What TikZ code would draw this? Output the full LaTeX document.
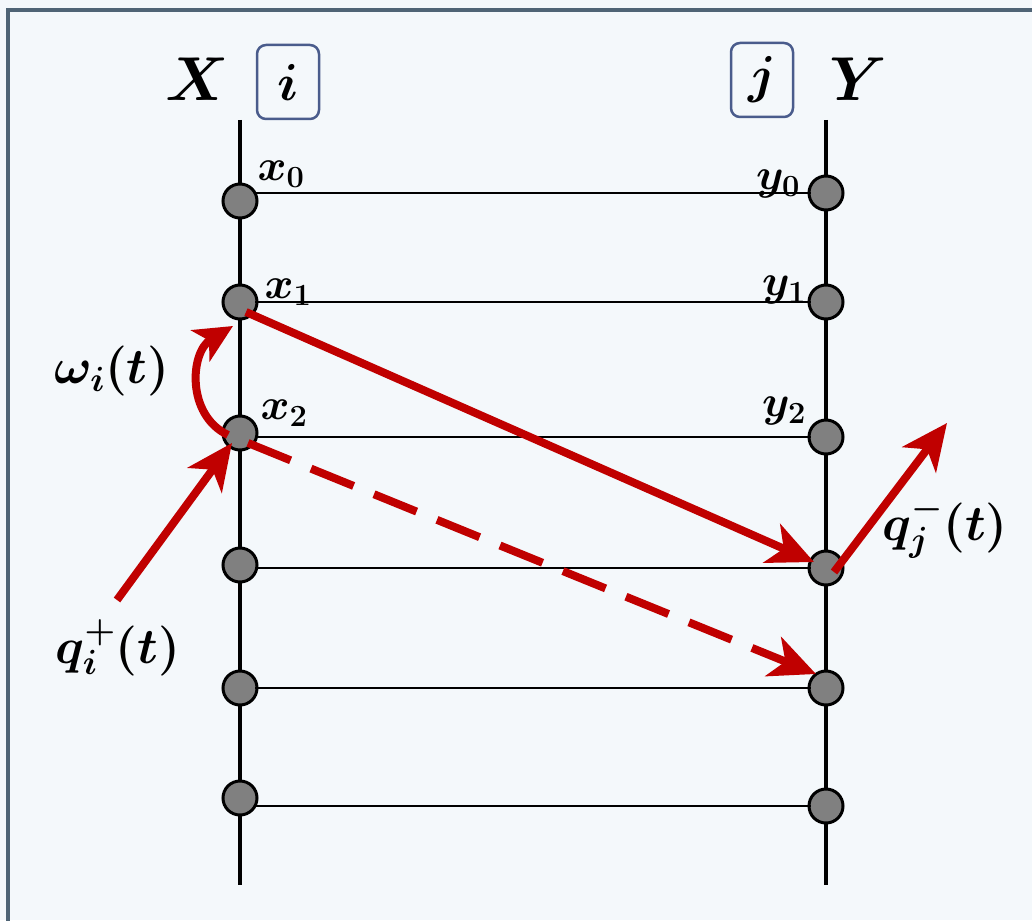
\documentclass[tikz,border=0pt]{standalone}
\usepackage{fix-cm}
\usepackage{amsmath}
\usepackage{bm}
\usetikzlibrary{arrows.meta,positioning}
\definecolor{framecol}{HTML}{4F6475}
\definecolor{boxcol}{HTML}{4A5C8C}
\definecolor{flowred}{HTML}{C00000}
\definecolor{paper}{HTML}{F4F8FB}
\begin{document}
\begin{tikzpicture}[x=1pt, y=-1pt,
  slot/.style={circle, draw, line width=3pt, fill=gray!95!black!95, minimum size=34pt, inner sep=0pt},
  idx/.style={draw=boxcol, line width=2.5pt, rounded corners=9pt, minimum width=62pt, minimum height=74pt, inner sep=0pt, font=\fontsize{52}{56}\selectfont},
  lbl/.style={font=\fontsize{44}{48}\selectfont, inner sep=0pt},
  big/.style={font=\fontsize{50}{54}\selectfont, inner sep=0pt},
  flow/.style={draw=flowred, line width=8pt, -{Stealth[length=46pt, width=42pt, inset=13pt]}}]
  \useasboundingbox (0,0) rectangle (1032,920);
  \fill[paper] (0,0) rectangle (1032,920);
  \draw[framecol, line width=4pt] (8,930) -- (8,10) -- (1040,10);
  % axes
  \coordinate (xtop) at (240,120); \coordinate (xbot) at (240,885);
  \coordinate (ytop) at (826,120); \coordinate (ybot) at (826,885);
  \draw[line width=4pt] (xtop) -- (xbot);
  \draw[line width=4pt] (ytop) -- (ybot);
  \node[font=\fontsize{62}{66}\selectfont] (X) at (197,79) {$\bm{X}$};
  \node[font=\fontsize{62}{66}\selectfont] (Y) at (858,79) {$\bm{Y}$};
  \node[idx] (i) at (288,82) {$\bm{i}$};
  \node[idx] (j) at (762,80) {$\bm{j}$};
  % slots
  \foreach \n/\xy in {0/201, 1/302, 2/433, 3/565, 4/688, 5/798}
    \node[slot] (x\n) at (240,\xy) {};
  \foreach \n/\yy in {0/193, 1/302, 2/437, 3/568, 4/688, 5/806}
    \node[slot] (y\n) at (826,\yy) {};
  \foreach \n in {0,...,5}
    \draw[line width=1.5pt] ([xshift=15pt]x\n.center |- y\n) -- ([xshift=-15pt]y\n.center);
  % labels
  \node[lbl] (lx0) at (281,174) {$\bm{x_0}$};
  \node[lbl] (lx1) at (288,292) {$\bm{x_1}$};
  \node[lbl] (lx2) at (284,413) {$\bm{x_2}$};
  \node[lbl] (ly0) at (778,184) {$\bm{y_0}$};
  \node[lbl] (ly1) at (784,290) {$\bm{y_1}$};
  \node[lbl] (ly2) at (784,411) {$\bm{y_2}$};
  % flows
  \coordinate (qin) at (117,600);
  \coordinate (qout) at (947,423);
  \draw[flow] (qin) -- (232,443);
  \draw[flow] ([shift={(8,4)}]y3.center) -- (qout);
  \draw[flow] ([shift={(6,10)}]x1.center) -- ([shift={(-12,-6)}]y3.center);
  \draw[flow, dash pattern=on 46pt off 22pt] ([shift={(8,10)}]x2.center) -- ([shift={(-10,-14)}]y4.center);
  \draw[flow, -{Stealth[length=38pt, width=36pt, inset=10pt]}] ([shift={(-12,2)}]x2.center) .. controls (186,415) and (190,352) .. ([shift={(-7,24)}]x1.center);
  \node[big] (w) at (112,371) {$\bm{\omega_i(t)}$};
  \node[big] (qi) at (118,648) {$\bm{q_i^+(t)}$};
  \node[big] (qj) at (945,527) {$\bm{q_j^-(t)}$};
\end{tikzpicture}
\end{document}
